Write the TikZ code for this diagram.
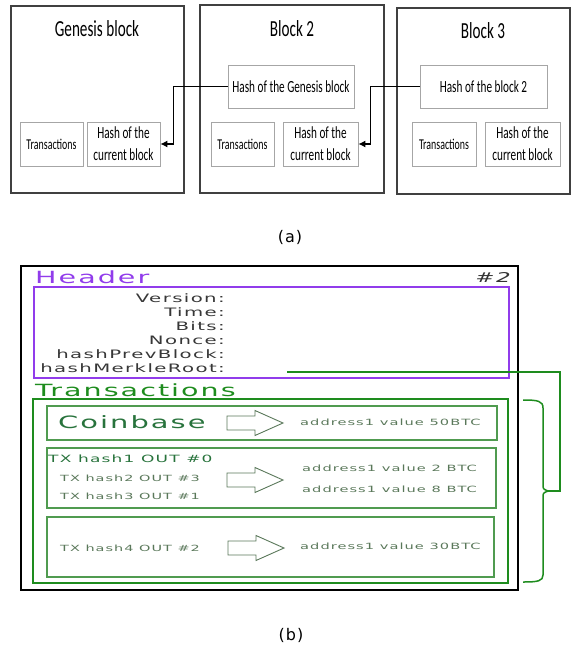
\documentclass[tikz,border=0pt]{standalone}
\usepackage{fontspec}
\usetikzlibrary{arrows.meta}
\newfontfamily\calfont[FakeStretch=0.66]{Carlito}
\newfontfamily\widefont[FakeStretch=1.7,LetterSpace=12]{DejaVu Sans}
\newfontfamily\capfont[LetterSpace=6]{DejaVu Sans}
\definecolor{hdrpurple}{RGB}{145,60,235}
\definecolor{txgreen}{RGB}{30,140,30}
\definecolor{boxgreen}{RGB}{80,155,80}
\definecolor{cbgreen}{RGB}{40,115,60}
\definecolor{smallgreen}{RGB}{90,120,90}
\definecolor{fieldgray}{RGB}{55,55,55}
\tikzset{
  blockbox/.style={draw=black!75,line width=1.1pt,minimum width=#1},
  partbox/.style={draw=black!35,line width=0.8pt,align=center,font=\calfont\fontsize{17}{22}\selectfont},
  link/.style={line width=1.1pt,-{Latex[length=7pt,width=7pt]}},
  hollow/.style={draw=smallgreen,line width=0.9pt,fill=white},
  small/.style={anchor=west,inner sep=0pt,text=smallgreen},
}
\newcommand{\hollowarrow}[2]{\draw[hollow] (#1,#2) ++(0,-7) -- ++(28,0) -- ++(0,-5.5) -- ++(28,12.5) -- ++(-28,12.5) -- ++(0,-5.5) -- ++(-28,0) -- cycle;}
\begin{document}
\begin{tikzpicture}[x=1pt,y=-1pt]
  \useasboundingbox (0,0) rectangle (582,652);

  % (a) chain of blocks
  \node[blockbox=173pt,minimum height=187pt] (gen) at (97.5,99.5) {};
  \node[blockbox=184pt,minimum height=188pt] (blk2) at (292,99) {};
  \node[blockbox=173pt,minimum height=186pt] (blk3) at (483.5,101) {};

  \node[font=\calfont\fontsize{23}{26}\selectfont] (gentitle) at (97,29) {Genesis block};
  \node[font=\calfont\fontsize{23}{26}\selectfont] (title2) at (292,29) {Block 2};
  \node[font=\calfont\fontsize{23}{26}\selectfont] (title3) at (483,31) {Block 3};

  \node[partbox,minimum width=63pt,minimum height=44pt,font=\calfont\fontsize{15}{18}\selectfont] (gtx) at (51.5,144) {Transactions};
  \node[partbox,minimum width=73pt,minimum height=44pt] (gcur) at (123.5,144) {Hash of the\\current block};

  \node[partbox,minimum width=126pt,minimum height=43pt] (prev2) at (291,86.5) {Hash of the Genesis block};
  \node[partbox,minimum width=63pt,minimum height=44pt,font=\calfont\fontsize{15}{18}\selectfont] (tx2) at (242.5,144) {Transactions};
  \node[partbox,minimum width=75pt,minimum height=44pt] (cur2) at (320.5,144) {Hash of the\\current block};

  \node[partbox,minimum width=127pt,minimum height=43pt] (prev3) at (483.5,86.5) {Hash of the block 2};
  \node[partbox,minimum width=64pt,minimum height=44pt,font=\calfont\fontsize{15}{18}\selectfont] (tx3) at (444,144) {Transactions};
  \node[partbox,minimum width=75pt,minimum height=44pt] (cur3) at (522.5,144) {Hash of the\\current block};

  \draw[link] (prev2.west) -| ([xshift=13pt]gcur.east) -- (gcur.east);
  \draw[link] (prev3.west) -| ([xshift=12pt]cur2.east) -- (cur2.east);

  \node[font=\capfont\fontsize{16}{18}\selectfont] (capa) at (290,237) {(a)};

  % (b) block #2 layout
  \draw[line width=2.5pt] (21,266) rectangle (518,590);
  \node[anchor=west,inner sep=0pt,text=hdrpurple,font=\widefont\fontsize{16.8}{18}\selectfont] (header) at (35,277) {Header};
  \node[anchor=east,inner sep=0pt,text=black!80,font=\widefont\itshape\fontsize{13.5}{15}\selectfont] (num) at (511,277) {\#2};
  \draw[hdrpurple,line width=2pt] (34,287) rectangle (509,378);
  \node[anchor=east,inner sep=0pt,align=right,text=fieldgray,font=\widefont\fontsize{11.6}{14}\selectfont] (fields) at (225,333)
    {Version:\\Time:\\Bits:\\Nonce:\\hashPrevBlock:\\hashMerkleRoot:};

  \node[anchor=west,inner sep=0pt,text=txgreen,font=\widefont\fontsize{16.8}{18}\selectfont] (txtitle) at (35,390) {Transactions};
  \draw[txgreen,line width=2pt] (33,399) rectangle (508,583);
  \draw[boxgreen,line width=1.1pt] (47,406) rectangle (497,440);
  \draw[boxgreen,line width=1.1pt] (47,448) rectangle (496,508);
  \draw[boxgreen,line width=1.1pt] (47,517) rectangle (494,577);

  \node[anchor=west,inner sep=0pt,text=cbgreen,font=\widefont\fontsize{17}{18}\selectfont] (coinbase) at (58,422) {Coinbase};
  \node[small,font=\widefont\fontsize{8.6}{10}\selectfont] (out1) at (300,422) {address1 value 50BTC};
  \node[anchor=west,inner sep=0pt,text=cbgreen,font=\widefont\fontsize{10}{11}\selectfont] (in1) at (48,459) {TX hash1 OUT \#0};
  \node[small,font=\widefont\fontsize{8.5}{10}\selectfont] (in2) at (60,478) {TX hash2 OUT \#3};
  \node[small,font=\widefont\fontsize{8.5}{10}\selectfont] (in3) at (60,496) {TX hash3 OUT \#1};
  \node[small,font=\widefont\fontsize{8.6}{10}\selectfont] (out2) at (302,468) {address1 value 2 BTC};
  \node[small,font=\widefont\fontsize{8.6}{10}\selectfont] (out3) at (302,489) {address1 value 8 BTC};
  \node[small,font=\widefont\fontsize{8.5}{10}\selectfont] (in4) at (60,548) {TX hash4 OUT \#2};
  \node[small,font=\widefont\fontsize{8.6}{10}\selectfont] (out4) at (300,546) {address1 value 30BTC};

  \hollowarrow{227}{423}
  \hollowarrow{227}{480}
  \hollowarrow{228}{548}

  % merkle root points at the transactions
  \coordinate (mroot) at (287,372);
  \coordinate (tip) at (548,491);
  \draw[txgreen,line width=1.5pt] (523,400) .. controls (538,400) and (543,401) .. (543,408) -- (543,484)
    .. controls (543,489) .. (tip) .. controls (543,493) .. (543,498) -- (543,575)
    .. controls (543,581) and (538,582) .. (523,582);
  \draw[txgreen,line width=1.5pt] (mroot) -- (560,372) -- (560,491) -- (tip);

  \node[font=\capfont\fontsize{16}{18}\selectfont] (capb) at (291,635) {(b)};
\end{tikzpicture}
\end{document}
